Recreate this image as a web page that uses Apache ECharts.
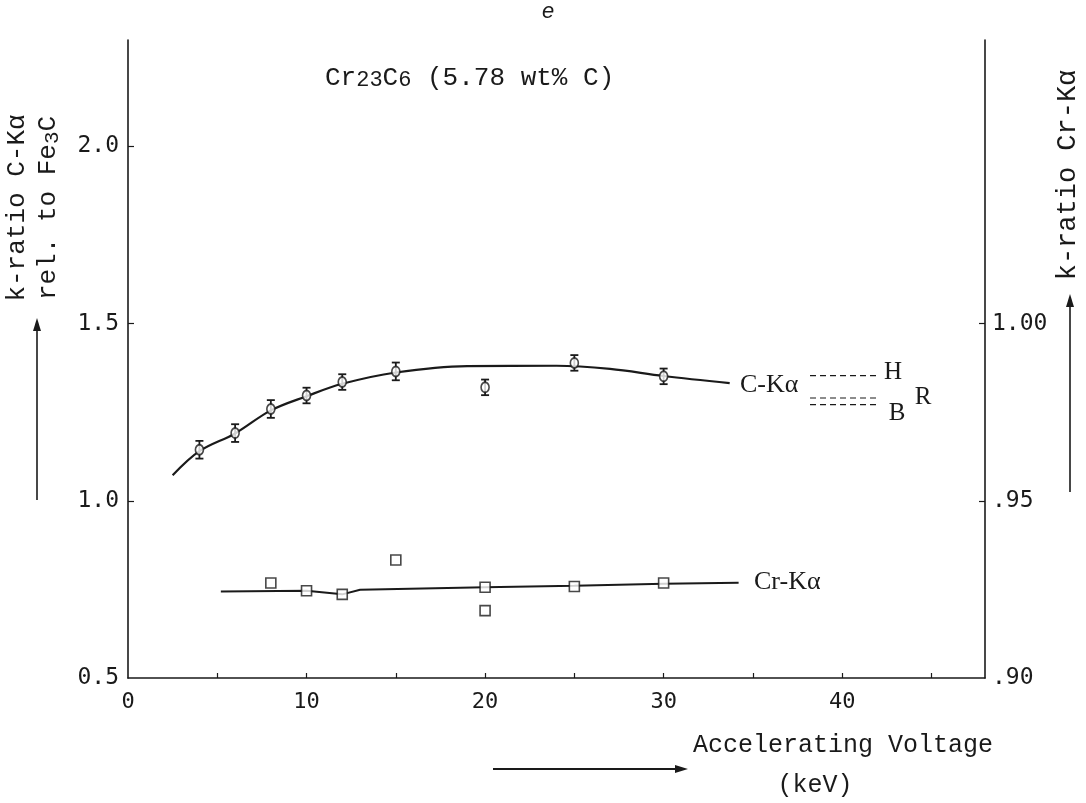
<!DOCTYPE html>
<html><head><meta charset="utf-8">
<script src="https://cdn.jsdelivr.net/npm/echarts@6/dist/echarts.min.js"></script>
<style>html,body{margin:0;padding:0;background:#fff}#c{width:1086px;height:803px}</style>
</head><body><div id="c"></div>
<script>
// ---- data ----
const xTickLabels = [0, 10, 20, 30, 40];
const xMinorTicks = [5, 10, 15, 20, 25, 30, 35, 40, 45];
const leftTickLabels = [0.5, 1.0, 1.5, 2.0];
const rightTickLabels = [0.90, 0.95, 1.00];

// C-Kα measured k-ratios (left axis) with error half-widths
const cX = [4, 6, 8, 10, 12, 15, 20, 25, 30];
const cY = [1.144, 1.191, 1.259, 1.297, 1.335, 1.365, 1.320, 1.389, 1.351];
const cErr = [0.025, 0.025, 0.025, 0.022, 0.022, 0.025, 0.022, 0.022, 0.022];
// C-Kα fitted curve
const cCurveX = [2.5, 4, 6, 8, 10, 12, 15, 19, 24, 27, 30, 33.7];
const cCurveY = [1.072, 1.14, 1.19, 1.255, 1.295, 1.33, 1.362, 1.38, 1.381, 1.372, 1.352, 1.332];
// Reference values H, B (left axis)
const hX = [38.2, 42.0]; const hY = [1.353, 1.353];
const b1X = [38.2, 42.0]; const b1Y = [1.290, 1.290];
const b2X = [38.2, 42.0]; const b2Y = [1.271, 1.271];

// Cr-Kα measured k-ratios (right axis)
const crX = [8, 10, 12, 15, 20, 20, 25, 30];
const crY = [0.9268, 0.9246, 0.9236, 0.9333, 0.9256, 0.9190, 0.9258, 0.9268];
const crLineX = [5.2, 10, 12, 13, 20, 25, 30, 34.2];
const crLineY = [0.9244, 0.9246, 0.9236, 0.9249, 0.9256, 0.926, 0.9266, 0.9269];

const MONO = '"DejaVu Sans Mono", monospace';
const TYPE = '"Liberation Mono", monospace';
const INK = '#1a1a1a';

const chart = echarts.init(document.getElementById('c'), null, {renderer: 'canvas'});

function zip(a, b) { return a.map((v, i) => [v, b[i]]); }

const option = {
  backgroundColor: '#fff',
  animation: false,
  grid: {left: 128, right: 101, top: 40, bottom: 125, containLabel: false},
  xAxis: {
    type: 'value', min: 0, max: 48,
    axisLine: {show: true, lineStyle: {color: INK, width: 1.6}},
    axisTick: {show: true, inside: true, length: 5, customValues: xMinorTicks, lineStyle: {color: INK, width: 1.2}},
    axisLabel: {customValues: xTickLabels, color: INK, fontFamily: MONO, fontSize: 22, margin: 13},
    splitLine: {show: false}
  },
  yAxis: [
    {
      type: 'value', min: 0.5, max: 2.3, position: 'left',
      axisLine: {show: true, onZero: false, lineStyle: {color: INK, width: 1.6}},
      axisTick: {show: true, inside: true, length: 6, customValues: [1.0, 1.5, 2.0], lineStyle: {color: INK, width: 1.2}},
      axisLabel: {customValues: leftTickLabels, color: INK, fontFamily: MONO, fontSize: 23, margin: 9,
        formatter: v => v.toFixed(1)},
      splitLine: {show: false}
    },
    {
      type: 'value', min: 0.90, max: 1.08, position: 'right',
      axisLine: {show: true, onZero: false, lineStyle: {color: INK, width: 1.6}},
      axisTick: {show: true, inside: true, length: 6, customValues: [0.95, 1.00], lineStyle: {color: INK, width: 1.2}},
      axisLabel: {customValues: rightTickLabels, color: INK, fontFamily: MONO, fontSize: 23, margin: 7,
        formatter: v => (Math.abs(v - 1) < 1e-9 ? '1.00' : '.' + Math.round(v * 100))},
      splitLine: {show: false}
    }
  ],
  series: [
    {type: 'line', data: zip(cCurveX, cCurveY), smooth: 0.35, symbol: 'none', yAxisIndex: 0,
      lineStyle: {color: INK, width: 2.2}, z: 2},
    {type: 'custom', yAxisIndex: 0, z: 3,
      data: cX.map((x, i) => [x, cY[i], cErr[i]]),
      renderItem: function (params, api) {
        const x = api.value(0), y = api.value(1), e = api.value(2);
        const top = api.coord([x, y + e]);
        const bot = api.coord([x, y - e]);
        const w = 4;
        const st = {stroke: INK, lineWidth: 1.8};
        return {type: 'group', children: [
          {type: 'line', shape: {x1: top[0], y1: top[1], x2: bot[0], y2: bot[1]}, style: st},
          {type: 'line', shape: {x1: top[0] - w, y1: top[1], x2: top[0] + w, y2: top[1]}, style: st},
          {type: 'line', shape: {x1: bot[0] - w, y1: bot[1], x2: bot[0] + w, y2: bot[1]}, style: st}
        ]};
      }},
    {type: 'scatter', data: zip(cX, cY), yAxisIndex: 0, symbol: 'circle', symbolSize: [8, 10], z: 4,
      itemStyle: {color: '#fff', borderColor: INK, borderWidth: 1.8}},
    {type: 'line', data: zip(hX, hY), yAxisIndex: 0, symbol: 'none', lineStyle: {color: INK, width: 1.2, type: [6, 4]}},
    {type: 'line', data: zip(b1X, b1Y), yAxisIndex: 0, symbol: 'none', lineStyle: {color: INK, width: 1.2, type: [6, 4]}},
    {type: 'line', data: zip(b2X, b2Y), yAxisIndex: 0, symbol: 'none', lineStyle: {color: INK, width: 1.2, type: [6, 4]}},
    {type: 'line', data: zip(crLineX, crLineY), yAxisIndex: 1, symbol: 'none', smooth: false,
      lineStyle: {color: INK, width: 2}, z: 2},
    {type: 'scatter', data: zip(crX, crY), yAxisIndex: 1, symbol: 'rect', symbolSize: [10, 10], z: 4,
      itemStyle: {color: '#fff', borderColor: INK, borderWidth: 1.6}}
  ],
  graphic: [
    {type: 'text', x: 548, y: 12, style: {text: 'e', font: 'italic 22px "Liberation Sans"', fill: INK, align: 'center', verticalAlign: 'middle'}},
    {type: 'text', x: 325, y: 76, style: {
      text: '{n|Cr}{s|23}{n|C}{s|6}{n| (5.78 wt% C)}', verticalAlign: 'middle', fill: INK,
      rich: {n: {fontFamily: TYPE, fontSize: 26, fill: INK, verticalAlign: 'bottom', lineHeight: 30},
             s: {fontFamily: TYPE, fontSize: 22, fill: INK, padding: [18, 0, 0, 0], verticalAlign: 'bottom', lineHeight: 30}}}},
    // left axis name
    {type: 'text', x: 17, y: 208, rotation: Math.PI / 2, style: {text: 'k-ratio C-Kα', font: '26px "Liberation Mono"', fill: INK, align: 'center', verticalAlign: 'middle'}},
    {type: 'text', x: 49, y: 208, rotation: Math.PI / 2, style: {
      text: '{n|rel. to Fe}{s|3}{n|C}', align: 'center', verticalAlign: 'middle',
      rich: {n: {fontFamily: TYPE, fontSize: 26, fill: INK, lineHeight: 28, verticalAlign: 'top'},
             s: {fontFamily: TYPE, fontSize: 21, fill: INK, lineHeight: 28, padding: [0, 0, 0, 0], verticalAlign: 'bottom'}}}},
    {type: 'line', shape: {x1: 37, y1: 500, x2: 37, y2: 330}, style: {stroke: INK, lineWidth: 1.6}},
    {type: 'polygon', shape: {points: [[37, 318], [33, 331], [41, 331]]}, style: {fill: INK}},
    // right axis name
    {type: 'text', x: 1068, y: 175, rotation: Math.PI / 2, style: {text: 'k-ratio Cr-Kα', font: '27px "Liberation Mono"', fill: INK, align: 'center', verticalAlign: 'middle'}},
    {type: 'line', shape: {x1: 1070, y1: 492, x2: 1070, y2: 305}, style: {stroke: INK, lineWidth: 1.6}},
    {type: 'polygon', shape: {points: [[1070, 294], [1066, 307], [1074, 307]]}, style: {fill: INK}},
    // x axis name
    {type: 'text', x: 693, y: 745, style: {text: 'Accelerating Voltage', font: '25px "Liberation Mono"', fill: INK, verticalAlign: 'middle'}},
    {type: 'text', x: 815, y: 785, style: {text: '(keV)', font: '25px "Liberation Mono"', fill: INK, align: 'center', verticalAlign: 'middle'}},
    {type: 'line', shape: {x1: 493, y1: 769, x2: 678, y2: 769}, style: {stroke: INK, lineWidth: 1.8}},
    {type: 'polygon', shape: {points: [[688, 769], [675, 765], [675, 773]]}, style: {fill: INK}},
    // series labels
    {type: 'text', x: 740, y: 385, style: {text: 'C-Kα', font: '26px "Liberation Serif"', fill: INK, verticalAlign: 'middle'}},
    {type: 'text', x: 893, y: 372, style: {text: 'H', font: '25px "Liberation Serif"', fill: INK, align: 'center', verticalAlign: 'middle'}},
    {type: 'text', x: 897, y: 413, style: {text: 'B', font: '25px "Liberation Serif"', fill: INK, align: 'center', verticalAlign: 'middle'}},
    {type: 'text', x: 923, y: 397, style: {text: 'R', font: '25px "Liberation Serif"', fill: INK, align: 'center', verticalAlign: 'middle'}},
    {type: 'text', x: 754, y: 582, style: {text: 'Cr-Kα', font: '26px "Liberation Serif"', fill: INK, verticalAlign: 'middle'}}
  ]
};
chart.setOption(option);
</script></body></html>
